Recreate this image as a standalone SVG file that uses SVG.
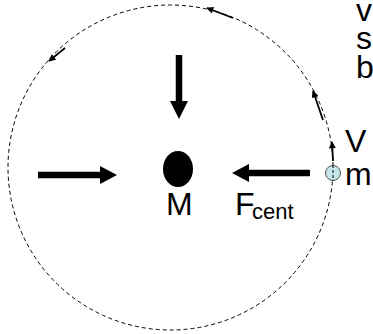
<svg xmlns="http://www.w3.org/2000/svg" width="373" height="334" viewBox="0 0 373 334">
<style>
.orbit{fill:none;stroke:#000;stroke-width:1;stroke-dasharray:4,3}
.big{stroke:#000;stroke-width:6.5;fill:none}
.head{fill:#000}
.small{stroke:#000;stroke-width:1.8;fill:none}
.lbl{font-family:"Liberation Sans",Arial,sans-serif;font-size:32px;fill:#000}
.sub{font-family:"Liberation Sans",Arial,sans-serif;font-size:22px;fill:#000}
</style>
<defs>
<marker id="sh" viewBox="0 0 10 10" refX="9" refY="5" markerWidth="8" markerHeight="7" orient="auto" markerUnits="userSpaceOnUse">
<path d="M0,0 L10,5 L0,10 z" fill="#000"/>
</marker>
</defs>
<g id="orbit"><circle class="orbit" cx="170.5" cy="167.5" r="162.5"/></g>
<g id="connectors">
<line class="big" x1="179" y1="55" x2="179" y2="102"/>
<polygon class="head" points="170,101 188,101 179,119"/>
<line class="big" x1="38" y1="175" x2="101" y2="175"/>
<polygon class="head" points="100,166 100,184 117,175"/>
<line class="big" x1="310" y1="173" x2="248" y2="173"/>
<polygon class="head" points="249,164 249,182 232,173"/>
<line class="small" x1="233" y1="18" x2="207" y2="8" marker-end="url(#sh)"/>
<line class="small" x1="65" y1="48" x2="49" y2="61" marker-end="url(#sh)"/>
<line class="small" x1="323" y1="120" x2="313" y2="91" marker-end="url(#sh)"/>
<line class="small" x1="333" y1="161" x2="332" y2="142" marker-end="url(#sh)"/>
</g>
<g id="M"><ellipse cx="178" cy="169" rx="15" ry="18" fill="#000"/><text class="lbl" x="166" y="215">M</text></g>
<g id="m"><circle cx="333" cy="173" r="7.5" fill="#c6e7ea" stroke="#555" stroke-width="1"/><line x1="333" y1="165" x2="333" y2="181" stroke="#000" stroke-width="1" stroke-dasharray="3,2"/><text class="lbl" x="345" y="185">m</text></g>
<g id="Fcent"><text class="lbl" x="235" y="215">F</text><text class="sub" x="252" y="219">cent</text></g>
<g id="V"><text class="lbl" x="345" y="152">V</text></g>
<g id="side"><text class="lbl" x="356" y="21">v</text><text class="lbl" x="356" y="49">s</text><text class="lbl" x="356" y="78">b</text></g>
</svg>
